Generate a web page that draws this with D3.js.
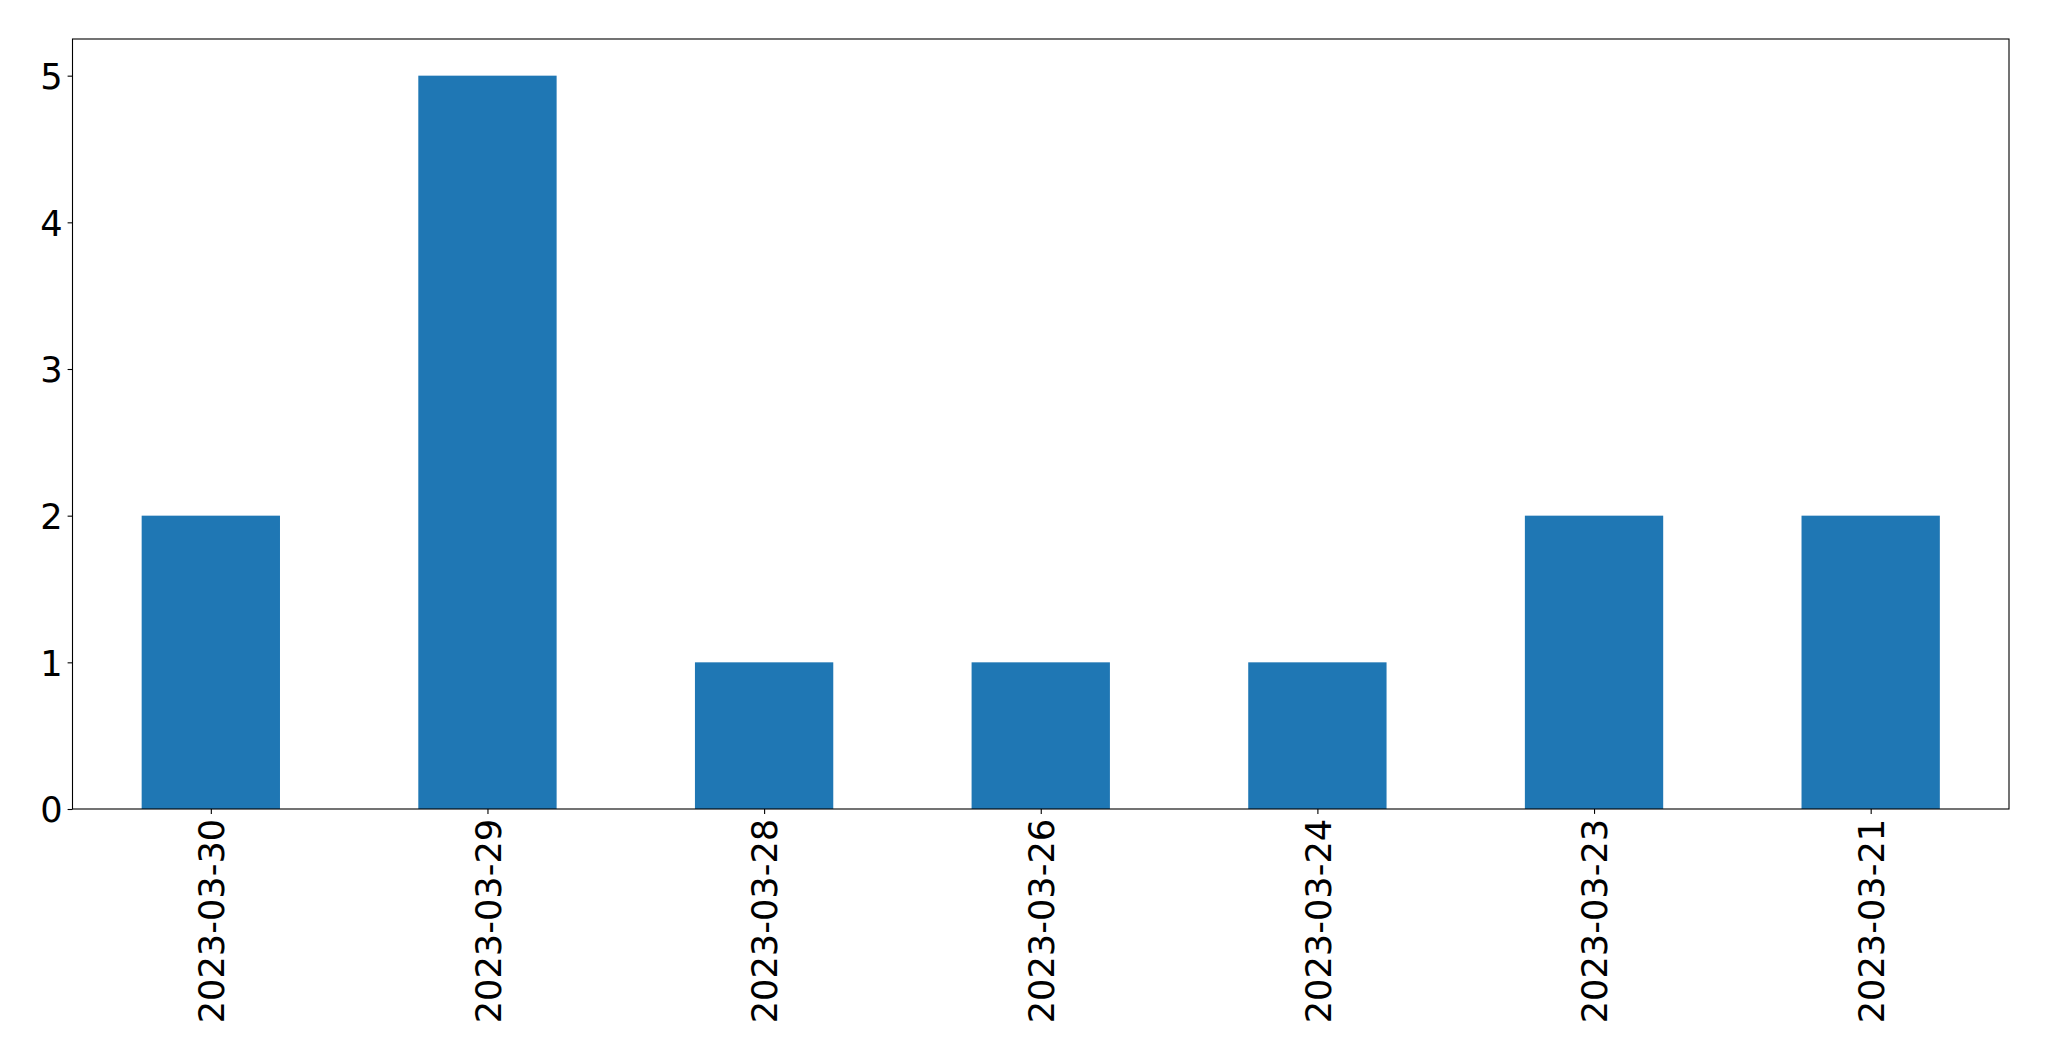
<!DOCTYPE html>
<html>
<head>
<meta charset="utf-8">
<script src="https://cdn.jsdelivr.net/npm/d3@7"></script>
<style>
  html, body { margin: 0; padding: 0; background: #fff; }
  svg { display: block; }
  text { font-family: "DejaVu Sans", sans-serif; fill: #000; }
</style>
</head>
<body>
<svg id="chart" width="2049" height="1061"></svg>
<script>
const categories = ["2023-03-30", "2023-03-29", "2023-03-28", "2023-03-26", "2023-03-24", "2023-03-23", "2023-03-21"];
const values = [2, 5, 1, 1, 1, 2, 2];
const yTicks = [0, 1, 2, 3, 4, 5];

const W = 2049, H = 1061;
const m = { left: 72.5, top: 39, right: 2009, bottom: 809 };
const svg = d3.select("#chart");

const x = d3.scaleLinear().domain([-0.5, categories.length - 0.5]).range([m.left, m.right]);
const y = d3.scaleLinear().domain([0, 5.25]).range([m.bottom, m.top]);
const barW = 0.5;

svg.append("g").selectAll("rect").data(values).join("rect")
  .attr("x", (d, i) => x(i - barW / 2))
  .attr("width", (d, i) => x(i + barW / 2) - x(i - barW / 2))
  .attr("y", d => y(d))
  .attr("height", d => y(0) - y(d))
  .attr("fill", "#1f77b4");

const fs = 35.2;
// y axis
const yAxis = d3.axisLeft(y).tickValues(yTicks).tickFormat(d3.format("d")).tickSize(4.9).tickPadding(4.9);
const gy = svg.append("g").attr("transform", `translate(${m.left},0)`).call(yAxis);
gy.select(".domain").remove();
gy.selectAll(".tick line").attr("stroke", "#000").attr("stroke-width", 1.1);
gy.selectAll(".tick text").attr("font-size", fs).attr("font-family", "DejaVu Sans").attr("dy", "0.36em");

// x axis
const xAxis = d3.axisBottom(x).tickValues(d3.range(categories.length)).tickFormat(i => categories[i]).tickSize(4.9).tickPadding(4.9);
const gx = svg.append("g").attr("transform", `translate(0,${m.bottom})`).call(xAxis);
gx.select(".domain").remove();
gx.selectAll(".tick line").attr("stroke", "#000").attr("stroke-width", 1.1);
gx.selectAll(".tick text")
  .attr("font-size", fs).attr("font-family", "DejaVu Sans")
  .attr("text-anchor", "end")
  .attr("y", 0).attr("dy", "0.36em")
  .attr("transform", "translate(0,9.8) rotate(-90)")
  .attr("x", 0);

// frame
svg.append("rect")
  .attr("x", m.left).attr("y", m.top)
  .attr("width", m.right - m.left).attr("height", m.bottom - m.top)
  .attr("fill", "none").attr("stroke", "#000").attr("stroke-width", 1.1);
</script>
</body>
</html>
